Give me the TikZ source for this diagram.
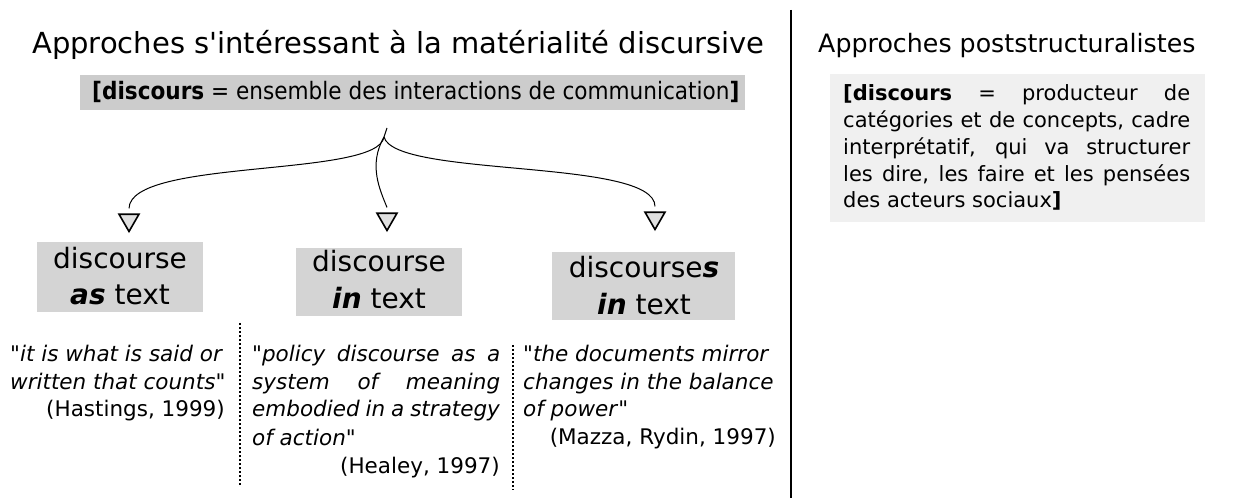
\documentclass[tikz,border=0pt]{standalone}
\usepackage{fontspec}
\newfontfamily\dv{DejaVu Sans}
\usetikzlibrary{shapes.geometric}
\definecolor{boxgray}{HTML}{D4D4D4}
\definecolor{topgray}{HTML}{CCCCCC}
\definecolor{lightgray}{HTML}{F0F0F0}
\definecolor{markgray}{HTML}{E0E0E0}
\newcommand{\fs}[1]{\dv\fontsize{#1}{#1}\selectfont}
\tikzset{
  title/.style={anchor=base west, inner sep=0pt},
  lbl/.style={anchor=base, inner sep=0pt, font=\fs{28}},
  quote/.style={anchor=base west, inner sep=0pt, font=\fs{21.5}},
  cite/.style={anchor=base east, inner sep=0pt, font=\fs{21.5}},
  rtext/.style={anchor=base west, inner sep=0pt, font=\fs{21}},
  marker/.style={draw=black, fill=markgray, line width=1.6pt, regular polygon, regular polygon sides=3, shape border rotate=180, inner sep=0pt, minimum size=23pt},
  branch/.style={line width=1pt},
  sep/.style={line width=1.3pt, dash pattern=on 2pt off 2pt},
}
\begin{document}
\begin{tikzpicture}[x=1pt,y=-1pt]
\useasboundingbox (0,0) rectangle (1234,502);
% titles
\node[title, font=\fs{29}] (tl) at (32,54) {Approches s'intéressant à la matérialité discursive};
\node[title, font=\fs{25.3}] (tr) at (818,53) {Approches poststructuralistes};
% divider
\coordinate (dtop) at (791,10);
\coordinate (dbot) at (791,498);
\draw[line width=2pt] (dtop) -- (dbot);
% top box
\path[fill=topgray] (80,75) rectangle (745,110);
\node[anchor=base west, inner sep=0pt, font=\fs{24}] (top) at (92,100) {\scalebox{0.9}[1]{\textbf{[discours} = ensemble des interactions de communication\textbf{]}}};
% branches
\coordinate (tip) at (387,128);
\coordinate (j) at (384,137);
\node[marker] (t1) at (129,220) {};
\node[marker] (t2) at (387,219) {};
\node[marker] (t3) at (655,218) {};
\draw[branch] (tip) -- (j);
\draw[branch] (j) .. controls (378,178) and (130,158) .. ([yshift=5pt]t1.north);
\draw[branch] (j) .. controls (368,165) and (380,190) .. ([yshift=5pt]t2.north);
\draw[branch] (j) .. controls (395,178) and (655,158) .. ([yshift=5pt]t3.north);
% label boxes
\path[fill=boxgray] (37,242) rectangle (203,312);
\node[lbl] (b1a) at (120,269) {discourse};
\node[lbl] (b1b) at (120,305) {\textbf{\textit{as}} text};
\path[fill=boxgray] (296,248) rectangle (462,316);
\node[lbl] (b2a) at (379,272) {discourse};
\node[lbl] (b2b) at (379,309) {\textbf{\textit{in}} text};
\path[fill=boxgray] (552,252) rectangle (735,320);
\node[lbl] (b3a) at (644,278) {discourse\textbf{\textit{s}}};
\node[lbl] (b3b) at (644,315) {\textbf{\textit{in}} text};
% column 1
\node[quote] (q1a) at (10,362) {"\textit{it is what is said or}};
\node[quote] (q1b) at (10,389) {\textit{written that counts}"};
\node[cite] (c1) at (225,416) {(Hastings, 1999)};
% separator 1
\coordinate (s1t) at (240,323);
\coordinate (s1b) at (240,485);
\draw[sep] (s1t) -- (s1b);
% column 2
\node[quote] (q2a) at (252,362) {\makebox[248pt][s]{"\textit{policy discourse as a}}};
\node[quote] (q2b) at (252,389) {\makebox[248pt][s]{\textit{system of meaning}}};
\node[quote] (q2c) at (252,416) {\makebox[248pt][s]{\textit{embodied in a strategy}}};
\node[quote] (q2d) at (252,445) {\textit{of action}"};
\node[cite] (c2) at (500,473) {(Healey, 1997)};
% separator 2
\coordinate (s2t) at (513,345);
\coordinate (s2b) at (513,490);
\draw[sep] (s2t) -- (s2b);
% column 3
\node[quote] (q3a) at (523,362) {"\textit{the documents mirror}};
\node[quote] (q3b) at (523,389) {\textit{changes in the balance}};
\node[quote] (q3c) at (523,416) {\textit{of power}"};
\node[cite] (c3) at (776,444) {(Mazza, Rydin, 1997)};
% right box
\path[fill=lightgray] (830,74) rectangle (1205,222);
\node[rtext] (r1) at (843,101) {\makebox[347pt][s]{\textbf{[discours} = producteur de}};
\node[rtext] (r2) at (843,128) {\makebox[347pt][s]{catégories et de concepts, cadre}};
\node[rtext] (r3) at (843,155) {\makebox[347pt][s]{interprétatif, qui va structurer}};
\node[rtext] (r4) at (843,182) {\makebox[347pt][s]{les dire, les faire et les pensées}};
\node[rtext] (r5) at (843,208) {des acteurs sociaux\textbf{]}};
\end{tikzpicture}
\end{document}
